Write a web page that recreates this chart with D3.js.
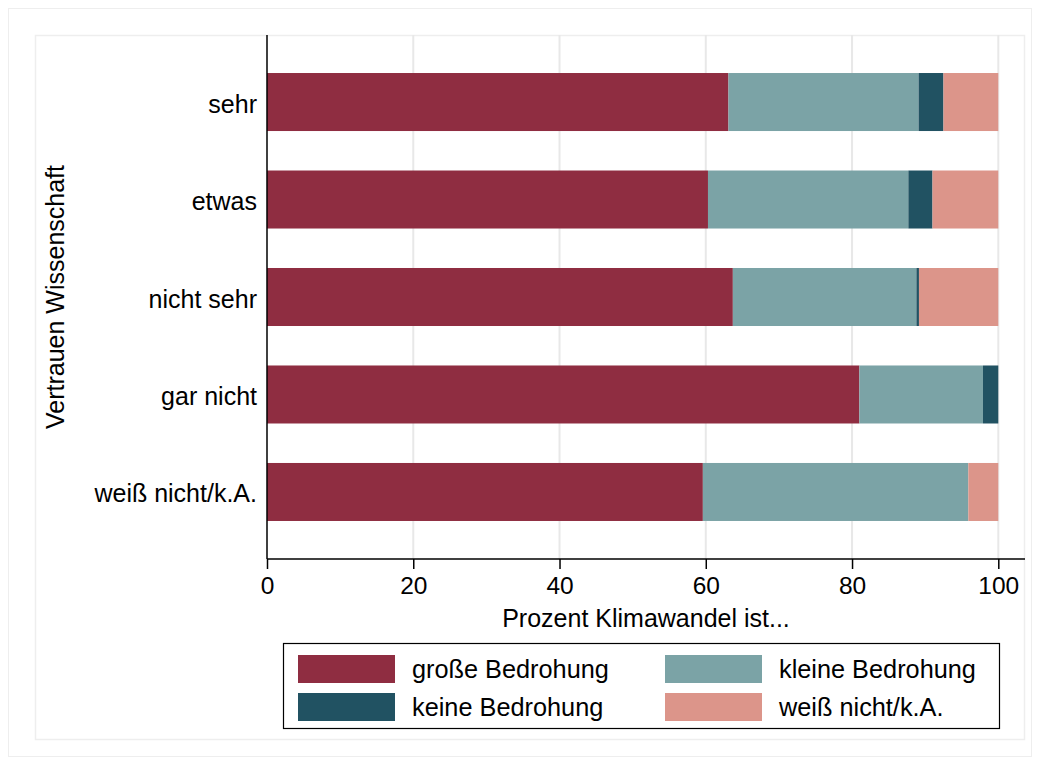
<!DOCTYPE html>
<html><head><meta charset="utf-8">
<script src="https://cdn.jsdelivr.net/npm/d3@7"></script>
<style>
html,body{margin:0;padding:0;background:#fff;}
svg{display:block;font-family:"Liberation Sans",Arial,Helvetica,sans-serif;}
</style></head>
<body>
<script>
const categories = ["sehr", "etwas", "nicht sehr", "gar nicht", "weiß nicht/k.A."];
const seriesNames = ["große Bedrohung", "kleine Bedrohung", "keine Bedrohung", "weiß nicht/k.A."];
const grosse = [63.1, 60.3, 63.7, 81.0, 59.6];
const kleine = [26.0, 27.4, 25.1, 16.9, 36.3];
const keine  = [3.4, 3.3, 0.35, 2.1, 0.0];
const weiss  = [7.5, 9.0, 10.85, 0.0, 4.1];
const xTicks = [0, 20, 40, 60, 80, 100];
const colors = ["#8f2d41", "#7ba3a6", "#215262", "#dc958a"];
const xTitle = "Prozent Klimawandel ist...";
const yTitle = "Vertrauen Wissenschaft";

(function(){
const W = 1040, H = 765;
const svg = d3.select("body").append("svg").attr("width", W).attr("height", H);

// outer frames
svg.append("rect").attr("x", 8.5).attr("y", 8.5).attr("width", 1023).attr("height", 748)
  .attr("fill", "#fff").attr("stroke", "#eeeeee").attr("stroke-width", 1);
svg.append("rect").attr("x", 35.5).attr("y", 35.5).attr("width", 989).attr("height", 704)
  .attr("fill", "#fff").attr("stroke", "#eeeeee").attr("stroke-width", 1.5);

const pTop = 35, pBottom = 559, pLeft = 267;
const x = d3.scaleLinear().domain([0, 100]).range([pLeft, 998.3]);
const y = d3.scaleBand().domain(categories).range([pTop, pBottom]).paddingInner(0.405).paddingOuter(0.39);

// gridlines
svg.append("g").selectAll("line").data(xTicks.filter(d => d > 0)).join("line")
  .attr("x1", d => x(d)).attr("x2", d => x(d)).attr("y1", pTop).attr("y2", pBottom)
  .attr("stroke", "#e8e8e8").attr("stroke-width", 2);

// stacked data
const rows = categories.map((c, i) => ({cat: c, v: [grosse[i], kleine[i], keine[i], weiss[i]]}));
const stacked = d3.stack().keys([0,1,2,3]).value((d, k) => d.v[k])(rows);

svg.append("g").selectAll("g").data(stacked).join("g")
  .attr("fill", (d, i) => colors[i])
  .selectAll("rect").data(d => d).join("rect")
  .attr("x", d => x(d[0])).attr("width", d => Math.max(0, x(d[1]) - x(d[0])))
  .attr("y", d => y(d.data.cat)).attr("height", y.bandwidth());

// x axis
const xAxis = d3.axisBottom(x).tickValues(xTicks).tickSize(10).tickPadding(8).tickSizeOuter(0);
const gx = svg.append("g").attr("transform", `translate(0,${pBottom})`).call(xAxis);
gx.select(".domain").remove();
gx.append("line").attr("x1", pLeft).attr("x2", 1025).attr("y1", 0).attr("y2", 0)
  .attr("stroke", "#000").attr("stroke-width", 1.5);
gx.selectAll(".tick line").attr("stroke", "#000").attr("stroke-width", 1.5);
gx.selectAll(".tick text").attr("fill", "#000").attr("font-size", 24.5)
  .attr("font-family", "'Liberation Sans', Arial, sans-serif");

// y axis
const yAxis = d3.axisLeft(y).tickSize(0).tickPadding(10);
const gy = svg.append("g").attr("transform", `translate(${pLeft},0)`).call(yAxis);
gy.select(".domain").remove();
gy.append("line").attr("x1", 0).attr("x2", 0).attr("y1", pTop).attr("y2", pBottom)
  .attr("stroke", "#000").attr("stroke-width", 1.5);
gy.selectAll(".tick text").attr("fill", "#000").attr("font-size", 25).attr("dy", "0.42em")
  .attr("font-family", "'Liberation Sans', Arial, sans-serif");

// titles
svg.append("text").attr("x", 646).attr("y", 627).attr("text-anchor", "middle")
  .attr("font-size", 25).attr("fill", "#000").text(xTitle);
svg.append("text").attr("transform", "translate(64,297) rotate(-90)").attr("text-anchor", "middle")
  .attr("font-size", 25).attr("fill", "#000").text(yTitle);

// legend
const lg = svg.append("g");
lg.append("rect").attr("x", 283.5).attr("y", 643.5).attr("width", 716).attr("height", 85)
  .attr("fill", "#fff").attr("stroke", "#000").attr("stroke-width", 1.2);
const legPos = [[298, 655], [665, 655], [298, 693], [665, 693]];
seriesNames.forEach((n, i) => {
  const [lx, ly] = legPos[i];
  lg.append("rect").attr("x", lx).attr("y", ly).attr("width", 97).attr("height", 28).attr("fill", colors[i]);
  lg.append("text").attr("x", lx + 114).attr("y", ly + 23).attr("font-size", 25.3).attr("fill", "#000").text(n);
});
})();
</script>
</body></html>
